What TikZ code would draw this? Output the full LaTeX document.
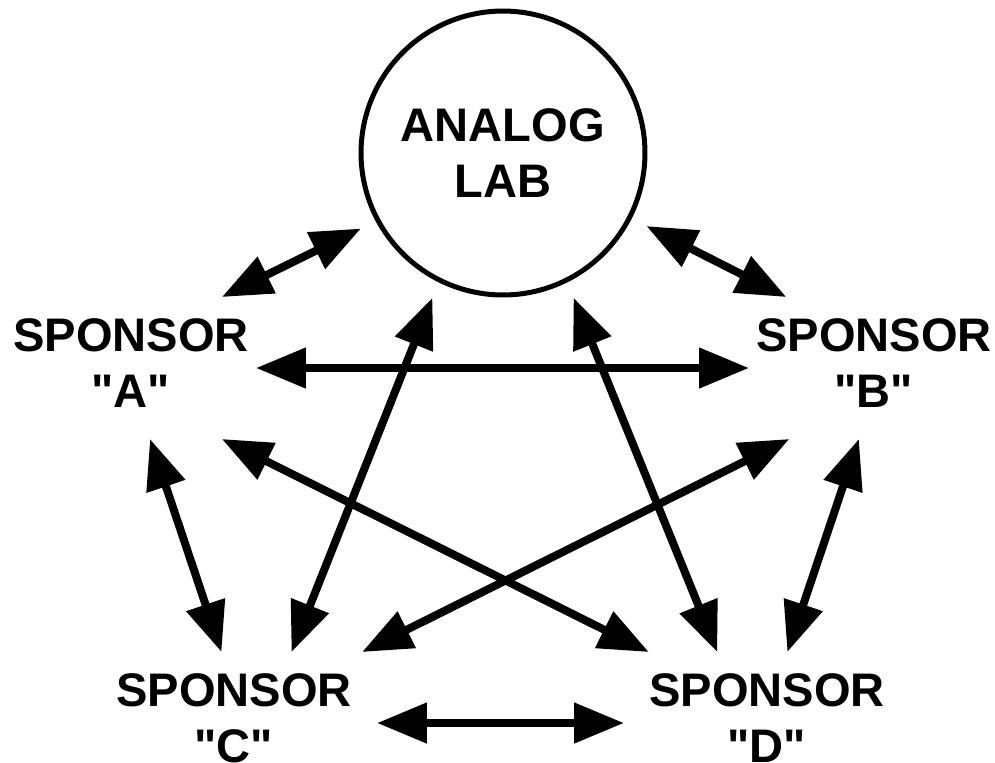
\documentclass[tikz,border=0pt]{standalone}
\usepackage{fontspec}
\setmainfont{Liberation Sans}
\usetikzlibrary{arrows.meta}
% straight quotes round a sponsor letter
\newcommand{\qletter}[1]{\textquotedbl#1\textquotedbl}

\begin{document}
\begin{tikzpicture}[x=0.02cm, y=-0.02cm,
        bigtext/.style={font=\fontsize{26.8pt}{31.9pt}\selectfont\bfseries, align=center},
        sponsor/.style={bigtext, inner sep=0pt, outer sep=0pt, minimum height=2.84cm, text depth=0.2cm},
        link/.style={line width=0.16cm, {Triangle[length=1cm,width=0.78cm]}-{Triangle[length=1cm,width=0.78cm]}}]
        \useasboundingbox (0,0) rectangle (995,762);
        % the lab in the middle of the ring
        \node[circle, draw, line width=0.1cm, minimum size=5.68cm, inner sep=0pt, outer sep=0.38cm, bigtext] (lab) at (503,153) {ANALOG\\LAB};
        % sponsors
        \node[sponsor, minimum width=5cm] (sA) at (131,368) {SPONSOR\\\qletter{A}};
        \node[sponsor, minimum width=5cm] (sB) at (874,368) {SPONSOR\\\qletter{B}};
        \node[sponsor, minimum width=5.72cm] (sC) at (234,723) {SPONSOR\\\qletter{C}};
        \node[sponsor, minimum width=5.72cm] (sD) at (767,723) {SPONSOR\\\qletter{D}};
        % everybody talks to everybody
        \foreach \from/\to in {lab.208/sA.38, lab.333/sB.141, lab.244/sC.51, lab.296/sD.125,
                sA.east/sB.west, sA.285/sC.100, sA.322/sD.149,
                sB.220/sC.29, sB.258/sD.74, sC.east/sD.west} {
            \draw[link] (\from) -- (\to);
        }
    \end{tikzpicture}
\end{document}
